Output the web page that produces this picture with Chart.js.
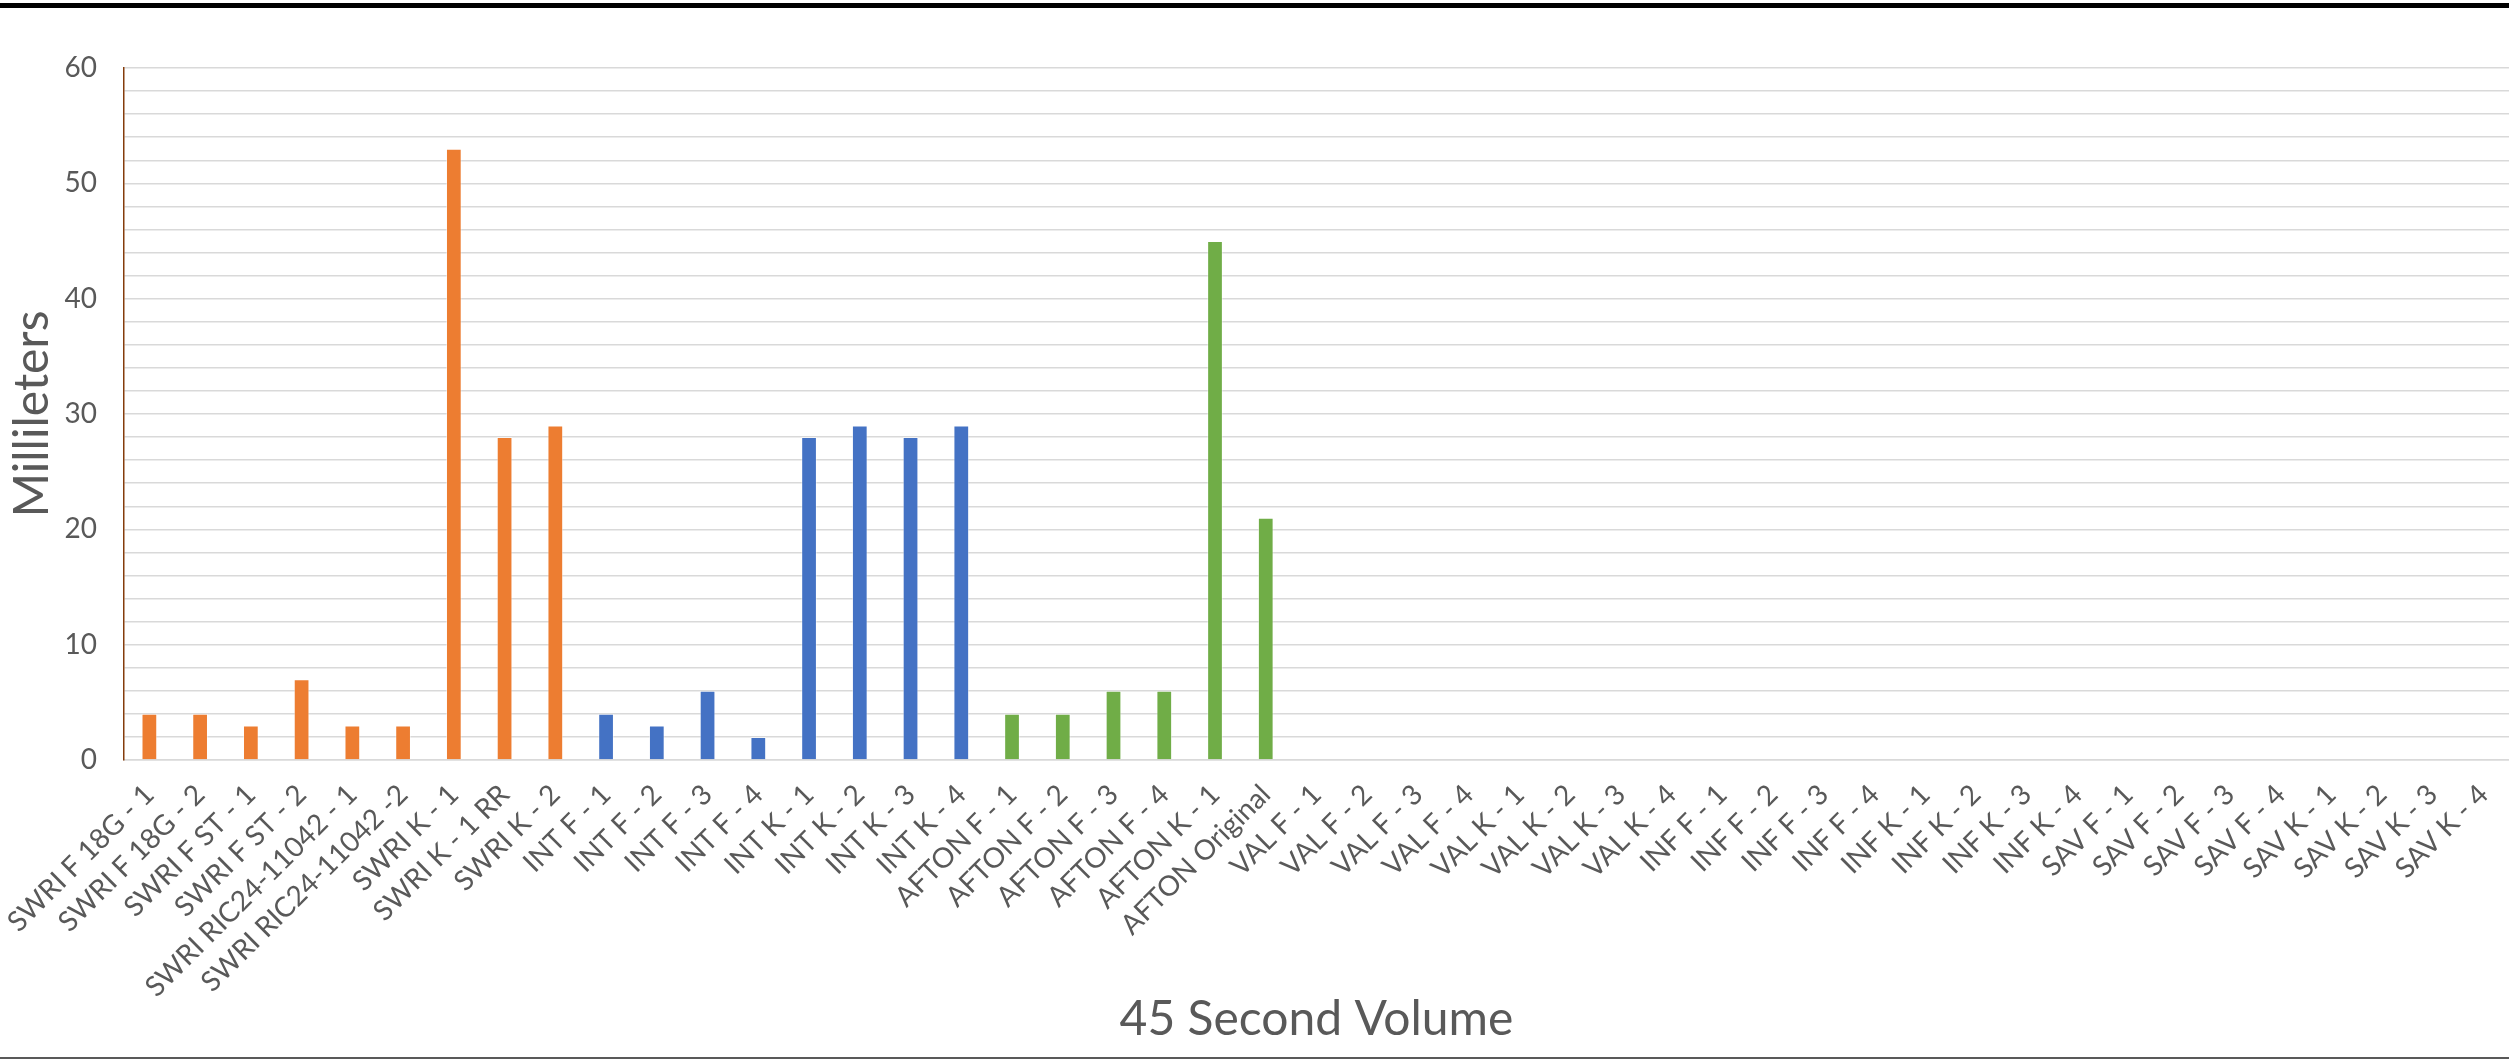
<!DOCTYPE html>
<html>
<head>
<meta charset="utf-8">
<title>45 Second Volume</title>
<script src="https://cdn.jsdelivr.net/npm/chart.js@4.4.1/dist/chart.umd.min.js"></script>
<style>
  html, body { margin: 0; padding: 0; background: #fff; }
  #wrap { position: relative; width: 2509px; height: 1060px; overflow: hidden; }
  #topRule { position: absolute; left: 0; top: 3px; width: 100%; height: 5px; background: #000; }
  #bottomRule { position: absolute; left: 0; top: 1057px; width: 100%; height: 2px; background: #595959; }
</style>
</head>
<body>
<div id="wrap">
  <canvas id="chart" width="2509" height="1060"></canvas>
  <div id="topRule"></div>
  <div id="bottomRule"></div>
</div>
<script>
// values (ml)
const swriLabels = ['SWRI F 18G - 1', 'SWRI F 18G - 2', 'SWRI F ST - 1', 'SWRI F ST - 2',
  'SWRI RIC24-11042 - 1', 'SWRI RIC24-11042 -2', 'SWRI K - 1', 'SWRI K - 1 RR', 'SWRI K - 2'];
const swriValues = [4, 4, 3, 7, 3, 3, 53, 28, 29];

const intLabels = ['INT F - 1', 'INT F - 2', 'INT F - 3', 'INT F - 4',
  'INT K - 1', 'INT K - 2', 'INT K - 3', 'INT K - 4'];
const intValues = [4, 3, 6, 2, 28, 29, 28, 29];

const aftonLabels = ['AFTON F - 1', 'AFTON F - 2', 'AFTON F - 3', 'AFTON F - 4',
  'AFTON K - 1', 'AFTON Original'];
const aftonValues = [4, 4, 6, 6, 45, 21];

// no bars drawn for these yet
const emptyLabels = ['VAL F - 1', 'VAL F - 2', 'VAL F - 3', 'VAL F - 4',
  'VAL K - 1', 'VAL K - 2', 'VAL K - 3', 'VAL K - 4',
  'INF F - 1', 'INF F - 2', 'INF F - 3', 'INF F - 4',
  'INF K - 1', 'INF K - 2', 'INF K - 3', 'INF K - 4',
  'SAV F - 1', 'SAV F - 2', 'SAV F - 3', 'SAV F - 4',
  'SAV K - 1', 'SAV K - 2', 'SAV K - 3', 'SAV K - 4'];

const yMin = 0, yMax = 60, yStep = 2, yLabelEvery = 10;

const ORANGE = '#ED7D31', BLUE = '#4472C4', GREEN = '#70AD47';
const TEXT = '#595959', GRID = '#D9D9D9';
const FONT = 'Lato, "Open Sans", sans-serif';

const labels = [].concat(swriLabels, intLabels, aftonLabels, emptyLabels);
const values = [].concat(swriValues, intValues, aftonValues, emptyLabels.map(() => null));
const barColors = [].concat(
  swriLabels.map(() => ORANGE),
  intLabels.map(() => BLUE),
  aftonLabels.map(() => GREEN),
  emptyLabels.map(() => GREEN)
);

const ctx = document.getElementById('chart').getContext('2d');
const chart = new Chart(ctx, {
  type: 'bar',
  data: {
    labels: labels,
    datasets: [{
      label: '45 Second Volume',
      data: values,
      backgroundColor: barColors,
      borderColor: 'rgba(255,255,255,0.45)',
      borderWidth: 1,
      barPercentage: 0.31,
      categoryPercentage: 1.0
    }]
  },
  options: {
    responsive: false,
    animation: false,
    layout: { padding: { top: 68, right: 0, bottom: 0, left: 0 } },
    plugins: { legend: { display: false }, tooltip: { enabled: false } },
    scales: {
      x: {
        grid: { display: false, drawTicks: false },
        border: { display: true, color: GRID, width: 1.5 },
        ticks: {
          autoSkip: false, minRotation: 45, maxRotation: 45,
          color: TEXT, padding: 18,
          font: { family: FONT, size: 28 }
        },
        title: {
          display: true, text: '45 Second Volume', color: TEXT,
          font: { family: FONT, size: 48 }, padding: { top: 10, bottom: 12 }
        },
        afterFit(scale) {
          scale.height = 300;
          // long first label may hang left under the y axis, like in Excel
          scale.paddingLeft = 0;
          scale.paddingRight = 0;
        }
      },
      y: {
        min: yMin, max: yMax,
        grid: { color: GRID, lineWidth: 1.5, drawTicks: false },
        border: { display: true, color: '#843C0C', width: 1.5 },
        ticks: {
          stepSize: yStep, maxTicksLimit: 100, autoSkip: false,
          color: TEXT, padding: 27,
          font: { family: FONT, size: 28 },
          callback: v => (v % yLabelEvery === 0 ? v : '')
        },
        title: {
          display: true, text: 'Millileters', color: TEXT,
          font: { family: FONT, size: 48 }, padding: { top: 4, bottom: 4 }
        },
        afterFit(scale) { scale.width = 124; }
      }
    }
  }
});
</script>
</body>
</html>
